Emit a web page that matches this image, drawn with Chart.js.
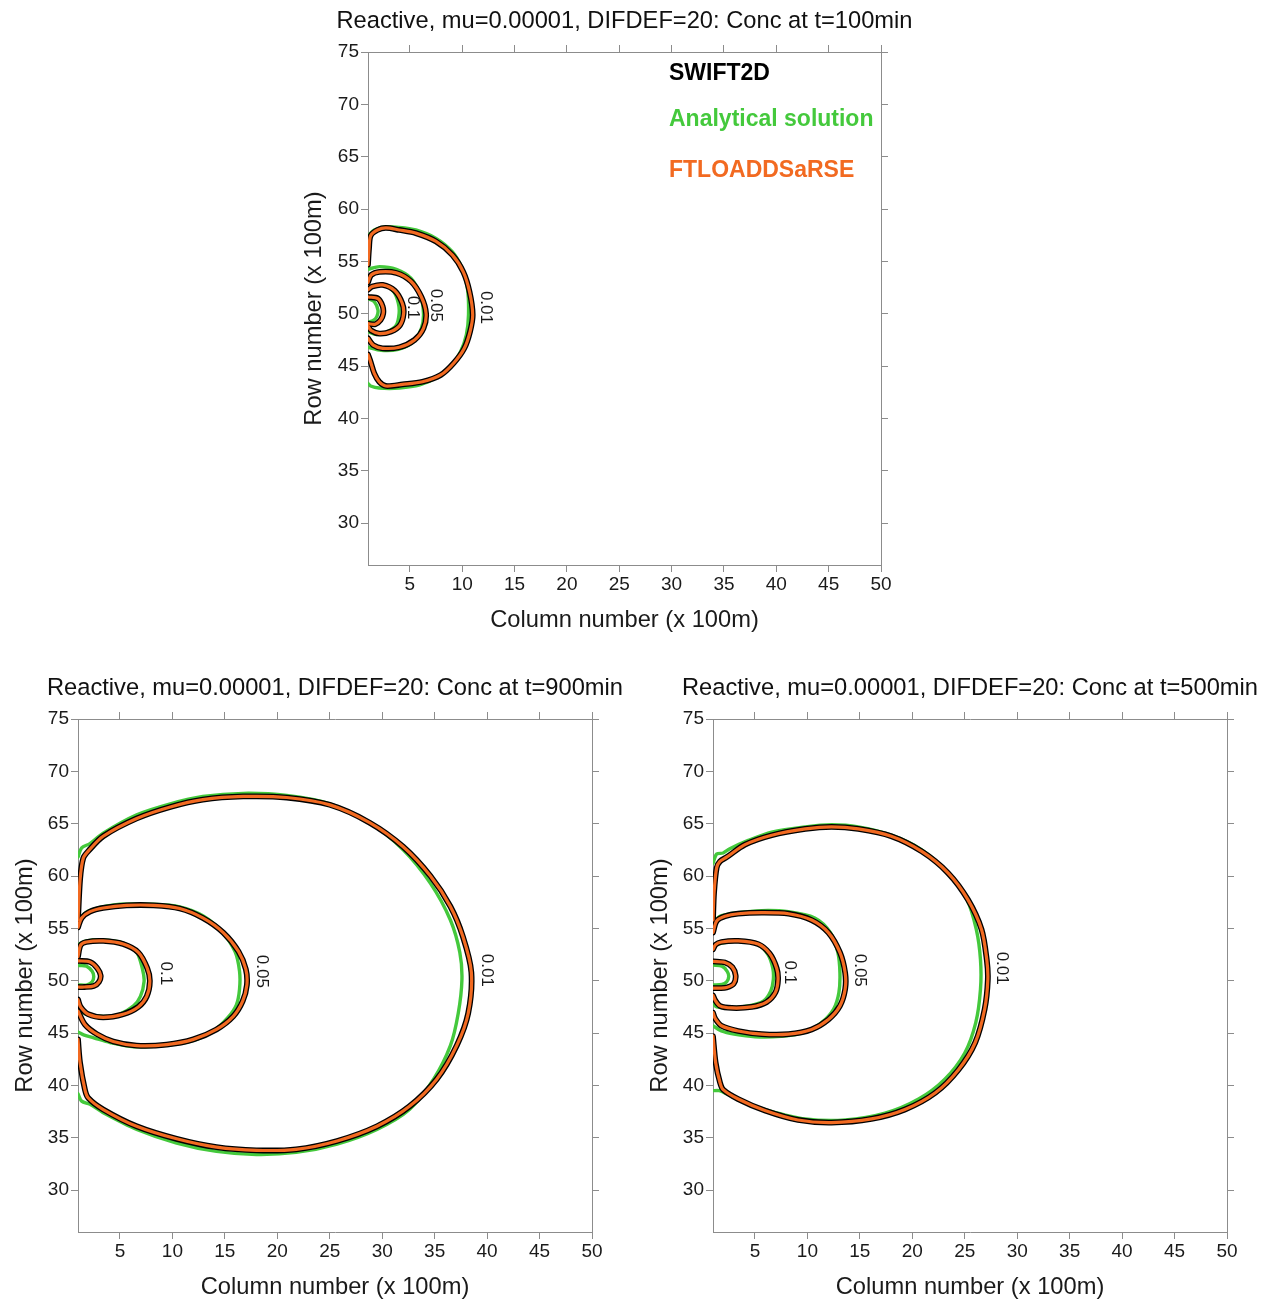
<!DOCTYPE html>
<html>
<head>
<meta charset="utf-8">
<title>Reactive contours</title>
<script src="https://cdn.jsdelivr.net/npm/chart.js@4.4.0/dist/chart.umd.min.js"></script>
<style>
  html, body { margin: 0; background: #fff; overflow: hidden; }
  .box { position: absolute; }
</style>
</head>
<body>
<div class="box" style="left:290px;top:0;width:669px;height:640px"><canvas id="chart100"></canvas></div>
<div class="box" style="left:0;top:650px;width:670px;height:652px"><canvas id="chart900"></canvas></div>
<div class="box" style="left:635px;top:650px;width:670px;height:652px"><canvas id="chart500"></canvas></div>
<script>
const seriesNames = ["SWIFT2D", "Analytical solution", "FTLOADDSaRSE"];
const seriesColors = ["#000000", "#44c93c", "#f26a21"];
const contourLevels = ["0.01", "0.05", "0.1"];

// t = 100 min
const t100_001_model = [[1.0,54.7],[1.1,56.25],[1.25,57.45],[1.9,58.0],[2.7,58.2],[3.98,58.0],[5.57,57.7],[7.5,56.9],[9.07,55.6],[10.1,54.0],[10.7,52.1],[11.0,49.9],[10.75,48.3],[10.2,46.7],[9.2,45.3],[7.95,44.15],[6.2,43.5],[4.3,43.25],[2.7,43.1],[2.07,43.5],[1.6,44.3],[1.25,45.4],[1.0,46.1]];
const t100_001_exact = [[1.0,57.45],[1.6,58.0],[2.55,58.3],[3.98,58.25],[5.57,58.0],[7.5,57.2],[9.07,55.9],[10.0,54.3],[10.5,52.4],[10.6,49.9],[10.4,48.0],[9.85,46.4],[9.0,45.1],[7.7,44.0],[5.95,43.2],[3.98,42.9],[2.07,42.9],[1.25,43.1],[1.0,43.35]];
const t100_005_model = [[1.0,53.0],[1.3,53.7],[2.1,54.0],[3.7,53.9],[5.1,53.1],[6.1,51.6],[6.55,50.0],[6.3,48.6],[5.45,47.5],[4.0,46.8],[2.4,46.7],[1.5,47.0],[1.0,47.65]];
const t100_005_exact = [[1.0,54.25],[2.1,54.5],[3.7,54.25],[5.1,53.4],[6.0,51.8],[6.3,50.0],[6.1,48.6],[5.3,47.3],[3.9,46.6],[2.25,46.5],[1.0,46.8]];
const t100_010_model = [[1.0,52.3],[1.4,52.6],[2.4,52.75],[3.55,52.2],[4.27,51.0],[4.4,50.0],[4.05,48.9],[3.2,48.3],[2.1,48.1],[1.3,48.4],[1.0,48.8]];
const t100_010_exact = [[1.0,52.5],[2.4,52.8],[3.45,52.1],[3.9,51.0],[3.97,50.0],[3.7,48.9],[2.9,48.3],[1.8,48.0],[1.0,48.3]];
const t100_inner_model = [[1.0,51.6],[1.95,51.45],[2.4,50.7],[2.45,50.0],[2.2,49.4],[1.7,49.0],[1.0,49.05]];
const t100_inner_exact = [[1.0,51.45],[1.6,51.15],[1.95,50.35],[1.85,49.75],[1.5,49.35],[1.0,49.2]];
const t100_labels = [[12.2,50.6],[7.5,50.8],[5.3,50.6]];

// t = 900 min
const t900_001_model = [[1.0,55.8],[1.2,59.7],[1.5,61.7],[2.0,62.4],[3.4,63.8],[6.6,65.5],[9.8,66.6],[12.9,67.3],[16.75,67.6],[20.9,67.5],[25.0,66.8],[28.8,65.1],[32.0,62.8],[34.6,60.0],[36.5,57.1],[37.7,54.2],[38.5,50.8],[38.2,46.9],[37.1,43.8],[35.2,40.6],[32.6,38.0],[29.5,36.1],[25.7,34.7],[21.8,33.9],[18.0,33.8],[14.2,34.1],[10.4,34.9],[6.59,36.1],[3.41,37.7],[1.98,38.8],[1.66,39.6],[1.19,42.2],[1.0,44.4]];
const t900_001_exact = [[1.0,61.8],[1.35,62.7],[2.14,63.1],[3.4,64.1],[6.6,65.85],[9.8,66.9],[12.9,67.6],[16.75,67.9],[20.9,67.7],[25.0,66.9],[28.8,65.1],[32.0,62.5],[34.6,59.3],[36.5,55.8],[37.4,52.7],[37.6,50.1],[37.25,46.9],[36.5,43.8],[34.9,40.6],[32.6,37.7],[29.5,35.8],[25.7,34.4],[21.8,33.6],[18.0,33.4],[14.2,33.7],[10.4,34.5],[6.6,35.8],[3.4,37.4],[2.14,38.2],[1.35,38.5],[1.0,39.2]];
const t900_005_model = [[1.0,55.1],[1.35,56.0],[2.14,56.6],[3.4,56.95],[5.64,57.2],[8.2,57.2],[10.7,56.9],[12.9,56.0],[14.85,54.6],[16.3,52.8],[17.0,51.1],[17.1,49.6],[16.7,48.05],[15.8,46.6],[14.2,45.35],[12.0,44.4],[9.45,43.9],[6.6,43.8],[4.36,44.2],[2.8,44.9],[1.67,45.8],[1.0,47.1]];
const t900_005_exact = [[1.0,55.5],[1.6,56.4],[2.5,56.85],[5.0,57.3],[8.2,57.3],[10.7,57.05],[12.9,56.2],[14.7,54.7],[15.96,52.8],[16.4,50.9],[16.4,49.2],[16.1,47.7],[15.3,46.5],[13.9,45.2],[11.7,44.2],[9.1,43.8],[6.3,43.7],[4.05,44.1],[2.5,44.55],[1.6,44.8],[1.0,45.1]];
const t900_010_model = [[1.0,52.3],[1.25,53.4],[1.8,53.7],[3.4,53.8],[5.3,53.5],[6.75,52.7],[7.6,51.2],[7.85,49.95],[7.55,48.5],[6.75,47.5],[5.3,46.8],[3.4,46.5],[1.97,46.8],[1.25,47.5],[1.0,48.2]];
const t900_010_exact = [[1.0,53.45],[1.8,53.8],[3.4,53.9],[5.3,53.6],[6.6,52.7],[7.15,51.1],[7.3,49.95],[6.95,48.5],[6.3,47.6],[4.95,46.8],[3.4,46.6],[1.8,46.8],[1.0,47.25]];
const t900_inner_model = [[1.0,51.9],[2.14,51.8],[2.84,51.2],[3.16,50.5],[3.0,49.9],[2.5,49.5],[1.6,49.4],[1.0,49.4]];
const t900_inner_exact = [[1.0,51.45],[1.8,51.4],[2.35,50.9],[2.5,50.4],[2.35,49.9],[1.85,49.6],[1.0,49.6]];
const t900_labels = [[40.0,51.0],[18.5,50.9],[9.4,50.7]];

// t = 500 min
const t500_001_model = [[1.0,55.8],[1.1,58.4],[1.35,60.8],[1.66,61.4],[2.3,61.8],[4.05,63.0],[6.6,63.9],[9.8,64.5],[12.3,64.7],[14.85,64.5],[18.0,63.8],[20.9,62.35],[23.4,60.3],[25.3,57.75],[26.6,54.9],[27.1,52.0],[27.2,50.1],[26.9,47.3],[26.0,44.1],[24.4,41.5],[22.2,39.3],[19.3,37.7],[16.1,36.8],[12.3,36.45],[9.1,36.7],[5.95,37.6],[3.4,38.7],[1.97,39.6],[1.66,40.3],[1.25,42.2],[1.0,44.7]];
const t500_001_exact = [[1.0,61.2],[1.35,62.1],[1.97,62.2],[2.6,62.6],[4.36,63.4],[6.6,64.2],[9.8,64.7],[12.3,64.9],[14.85,64.7],[18.0,63.9],[20.9,62.5],[23.4,60.3],[25.2,57.75],[26.1,54.9],[26.5,52.0],[26.5,49.2],[26.05,46.0],[25.0,43.1],[23.1,40.6],[20.6,38.7],[17.4,37.35],[13.6,36.7],[9.8,36.8],[6.3,37.6],[3.7,38.5],[2.3,39.2],[1.6,39.5],[1.0,39.5]];
const t500_005_model = [[1.0,54.6],[1.35,55.7],[2.14,56.15],[3.4,56.4],[5.64,56.5],[8.2,56.4],[10.4,55.8],[12.0,54.6],[13.1,52.7],[13.6,50.75],[13.6,49.2],[13.1,47.6],[12.0,46.3],[10.4,45.35],[8.2,44.9],[5.64,44.9],[3.4,45.2],[1.8,45.7],[1.2,46.4],[1.0,46.95]];
const t500_005_exact = [[1.0,55.45],[1.66,56.15],[3.4,56.5],[5.64,56.7],[8.2,56.6],[10.7,56.0],[12.2,54.6],[12.9,52.7],[13.1,50.75],[13.0,48.85],[12.5,47.3],[11.35,46.0],[9.8,45.1],[7.5,44.7],[5.0,44.65],[3.0,44.9],[1.8,45.2],[1.0,45.7]];
const t500_010_model = [[1.0,53.0],[1.25,53.45],[1.8,53.7],[3.4,53.8],[5.3,53.5],[6.4,52.6],[7.07,51.2],[7.2,50.1],[6.96,48.9],[6.1,47.95],[4.7,47.5],[2.8,47.4],[1.66,47.6],[1.2,48.15],[1.0,48.6]];
const t500_010_exact = [[1.0,53.3],[1.8,53.6],[3.4,53.8],[5.3,53.45],[6.24,52.5],[6.7,51.2],[6.75,50.1],[6.5,49.0],[5.8,48.05],[4.36,47.6],[2.5,47.4],[1.35,47.5],[1.0,47.85]];
const t500_inner_model = [[1.0,51.85],[2.14,51.75],[2.84,51.3],[3.16,50.5],[2.97,49.7],[2.3,49.35],[1.6,49.3],[1.0,49.3]];
const t500_inner_exact = [[1.0,51.5],[1.85,51.4],[2.35,50.9],[2.5,50.4],[2.3,49.9],[1.85,49.65],[1.0,49.6]];
const t500_labels = [[28.5,51.2],[15.0,51.0],[8.3,50.8]];

const xMin = 1, xMax = 50, yMin = 26, yMax = 75;

Chart.defaults.font.family = "'Liberation Sans', Arial, sans-serif";
Chart.defaults.color = "#1a1a1a";

const axisGray = "#8c8c8c";
const bigFont = 23.7;

const toPoints = (arr) => arr.map(([x, y]) => ({ x, y }));

// Chart.js paints the first dataset last, so orange goes in first to end up on top
const makeDatasets = (model, exact) => {
  let sets = [];
  model.forEach((c) => sets.push({ label: seriesNames[2], data: toPoints(c), borderColor: seriesColors[2], borderWidth: 3.2 }));
  model.forEach((c) => sets.push({ label: seriesNames[0], data: toPoints(c), borderColor: seriesColors[0], borderWidth: 5.8 }));
  exact.forEach((c) => sets.push({ label: seriesNames[1], data: toPoints(c), borderColor: seriesColors[1], borderWidth: 3.4 }));
  return sets.map((s) => ({ ...s, showLine: true, pointRadius: 0, tension: 0.3, borderJoinStyle: "round", borderCapStyle: "round" }));
};

const everyFive = (scale) => {
  scale.ticks = scale.ticks.filter((t) => t.value % 5 === 0 && t.value >= scale.min && t.value <= scale.max);
};

const contourLabels = {
  id: "contourLabels",
  afterDatasetsDraw(chart, args, opts) {
    const { ctx, scales } = chart;
    ctx.save();
    ctx.font = "17px 'Liberation Sans', Arial, sans-serif";
    ctx.fillStyle = "#1a1a1a";
    ctx.textAlign = "center";
    ctx.textBaseline = "middle";
    opts.positions.forEach(([vx, vy], i) => {
      ctx.save();
      ctx.translate(scales.x.getPixelForValue(vx), scales.y.getPixelForValue(vy));
      ctx.rotate(Math.PI / 2);
      ctx.fillText(contourLevels[i], 0, 0);
      ctx.restore();
    });
    ctx.restore();
  },
};

const textLegend = {
  id: "textLegend",
  afterDraw(chart, args, opts) {
    if (!opts.show) return;
    const { ctx, chartArea } = chart;
    const offsets = [22, 68, 119];
    ctx.save();
    ctx.font = "bold 23px 'Liberation Sans', Arial, sans-serif";
    ctx.textAlign = "left";
    ctx.textBaseline = "middle";
    seriesNames.forEach((name, i) => {
      ctx.fillStyle = seriesColors[i];
      ctx.fillText(name, chartArea.left + 301, chartArea.top + offsets[i]);
    });
    ctx.restore();
  },
};

const axisBase = (position, min, max) => ({
  type: "linear",
  position: position,
  min: min,
  max: max,
  afterBuildTicks: everyFive,
  border: { display: true, color: axisGray, width: 1 },
  grid: { drawOnChartArea: false, color: axisGray, tickLength: 7 },
});

const buildChart = (id, title, model, exact, labels, lay, showLegend) => {
  const x = axisBase("bottom", xMin, xMax);
  x.ticks = { stepSize: 5, padding: 1, font: { size: 19 } };
  x.title = { display: true, text: "Column number (x 100m)", font: { size: bigFont }, padding: { top: 0, bottom: lay.xTitlePad } };
  x.afterFit = (s) => { s.height = lay.xHeight; };

  const y = axisBase("left", yMin, yMax);
  y.ticks = { stepSize: 5, padding: 2, font: { size: 19 } };
  y.title = { display: true, text: "Row number (x 100m)", font: { size: bigFont }, padding: { top: lay.yTitlePad, bottom: 0 } };
  y.afterFit = (s) => { s.width = lay.yWidth; };

  const x2 = axisBase("top", xMin, xMax);
  x2.ticks = { stepSize: 5, display: false };
  x2.afterFit = (s) => { s.height = lay.x2Height; };

  const y2 = axisBase("right", yMin, yMax);
  y2.ticks = { stepSize: 5, display: false };
  y2.afterFit = (s) => { s.width = lay.y2Width; };

  return new Chart(document.getElementById(id), {
    type: "scatter",
    data: { datasets: makeDatasets(model, exact) },
    options: {
      responsive: true,
      maintainAspectRatio: false,
      animation: false,
      layout: { padding: 0 },
      scales: { x: x, y: y, x2: x2, y2: y2 },
      plugins: {
        legend: { display: false },
        tooltip: { enabled: false },
        title: {
          display: true,
          text: title,
          color: "#111",
          font: { size: bigFont, weight: "normal" },
          padding: { top: lay.titlePad, bottom: 0 },
        },
        contourLabels: { positions: labels },
        textLegend: { show: showLegend },
      },
    },
    plugins: [contourLabels, textLegend],
  });
};

buildChart(
  "chart100",
  "Reactive, mu=0.00001, DIFDEF=20: Conc at t=100min",
  [t100_001_model, t100_005_model, t100_010_model, t100_inner_model],
  [t100_001_exact, t100_005_exact, t100_010_exact, t100_inner_exact],
  t100_labels,
  { titlePad: 6.8, x2Height: 16.76, xHeight: 75, xTitlePad: 5.8, yWidth: 78, y2Width: 78, yTitlePad: 9.8 },
  true
);

buildChart(
  "chart900",
  "Reactive, mu=0.00001, DIFDEF=20: Conc at t=900min",
  [t900_001_model, t900_005_model, t900_010_model, t900_inner_model],
  [t900_001_exact, t900_005_exact, t900_010_exact, t900_inner_exact],
  t900_labels,
  { titlePad: 24.0, x2Height: 16.56, xHeight: 70, xTitlePad: 0.8, yWidth: 78, y2Width: 78, yTitlePad: 10.8 },
  false
);

buildChart(
  "chart500",
  "Reactive, mu=0.00001, DIFDEF=20: Conc at t=500min",
  [t500_001_model, t500_005_model, t500_010_model, t500_inner_model],
  [t500_001_exact, t500_005_exact, t500_010_exact, t500_inner_exact],
  t500_labels,
  { titlePad: 24.0, x2Height: 16.56, xHeight: 70, xTitlePad: 0.8, yWidth: 78, y2Width: 78, yTitlePad: 10.8 },
  false
);
</script>
</body>
</html>
